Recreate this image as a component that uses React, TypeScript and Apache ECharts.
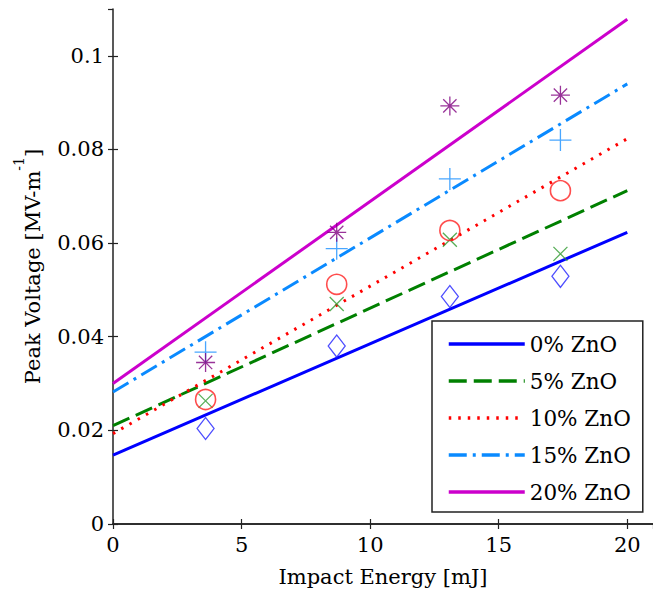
import { useEffect, useRef } from 'react';
import * as echarts from 'echarts';

const seriesNames = ['0% ZnO', '5% ZnO', '10% ZnO', '15% ZnO', '20% ZnO'];
const energies = [3.6, 8.7, 13.1, 17.4];
const measured0 = [0.0204, 0.038, 0.0486, 0.0529];
const measured5 = [0.0263, 0.047, 0.0607, 0.0577];
const measured10 = [0.0266, 0.0512, 0.0627, 0.0712];
const measured15 = [0.0367, 0.0588, 0.0737, 0.082];
const measured20 = [0.0345, 0.0623, 0.0893, 0.0916];
const fitX = [0, 20];
const fit0 = [0.0147, 0.0623];
const fit5 = [0.021, 0.0712];
const fit10 = [0.0193, 0.0823];
const fit15 = [0.0282, 0.094];
const fit20 = [0.03, 0.1078];

const FONT = 'DejaVu Serif';
const lineColors = ['#0000FF', '#008000', '#FF0000', '#0A8AFF', '#CC00CC'];
const markerColors = ['#2020FF', '#2E9A2E', '#FF2020', '#1A90FF', '#800080'];
const lineTypes: any[] = ['solid', [18, 7], [2.5, 7], [18, 6, 3, 6], 'solid'];
const measured = [measured0, measured5, measured10, measured15, measured20];
const fits = [fit0, fit5, fit10, fit15, fit20];
const symbols = [
  'diamond',
  'path://M0,0L20,20M0,20L20,0',
  'circle',
  'path://M10,0L10,20M0,10L20,10',
  'path://M10,0L10,20M0,10L20,10M3,3L17,17M3,17L17,3',
];
const symbolSizes: any[] = [[17, 22], 14, 20, 22, 19];

export default function App() {
  const ref = useRef<HTMLDivElement>(null);
  useEffect(() => {
    if (!ref.current) return;
    const chart = echarts.init(ref.current, undefined, { renderer: 'svg' });
    const lineSeries = seriesNames.map((name, i) => ({
      name,
      type: 'line',
      xAxisIndex: 0,
      yAxisIndex: 0,
      symbol: 'none',
      showSymbol: false,
      data: fitX.map((x, j) => [x, fits[i][j]]),
      lineStyle: { color: lineColors[i], width: 3, type: lineTypes[i], cap: 'butt' },
      itemStyle: { color: lineColors[i] },
      z: 2,
    }));
    const scatterSeries = seriesNames.map((name, i) => ({
      name: name + ' data',
      type: 'scatter',
      xAxisIndex: 0,
      yAxisIndex: 0,
      symbol: symbols[i],
      symbolSize: symbolSizes[i],
      data: energies.map((x, j) => [x, measured[i][j]]),
      itemStyle: {
        color: 'transparent',
        borderColor: markerColors[i],
        borderWidth: i === 2 ? 1.6 : 1.3,
      },
      z: 3,
    }));
    const axisLine = { show: true, lineStyle: { color: '#222', width: 1.5 } };
    const tick = { show: true, inside: true, length: 5, lineStyle: { color: '#222', width: 1.2 } };
    chart.setOption({
      animation: false,
      backgroundColor: '#fff',
      grid: { left: 113, top: 9, right: -4, bottom: 70, containLabel: false },
      xAxis: [
        {
          type: 'value',
          min: 0,
          max: 21,
          interval: 5,
          position: 'bottom',
          axisLine,
          axisTick: tick,
          splitLine: { show: false },
          axisLabel: {
            fontFamily: FONT,
            fontSize: 21,
            color: '#000',
            margin: 10,
            showMaxLabel: false,
          },
          name: 'Impact Energy [mJ]',
          nameLocation: 'middle',
          nameGap: 42,
          nameTextStyle: { fontFamily: FONT, fontSize: 21, color: '#000' },
        },
        {
          type: 'value',
          min: 0,
          max: 21,
          interval: 5,
          position: 'top',
          axisLine,
          axisTick: tick,
          splitLine: { show: false },
          axisLabel: { show: false },
        },
      ],
      yAxis: [
        {
          type: 'value',
          min: 0,
          max: 0.11,
          interval: 0.02,
          position: 'left',
          axisLine,
          axisTick: tick,
          splitLine: { show: false },
          axisLabel: {
            fontFamily: FONT,
            fontSize: 21,
            color: '#000',
            margin: 9,
            showMaxLabel: false,
            formatter: (v: number) => (v > 0.105 ? '' : String(Math.round(v * 100) / 100)),
          },
          name: '{a|Peak Voltage [MV-m}{s|-1}{a|]}',
          nameLocation: 'middle',
          nameGap: 70,
          nameTextStyle: {
            fontFamily: FONT,
            fontSize: 21,
            color: '#000',
            rich: {
              a: { fontFamily: FONT, fontSize: 21, color: '#000', lineHeight: 31, verticalAlign: 'bottom' },
              s: { fontFamily: FONT, fontSize: 14, color: '#000', lineHeight: 31, verticalAlign: 'top' },
            },
          },
        },
        {
          type: 'value',
          min: 0,
          max: 0.11,
          interval: 0.02,
          position: 'right',
          axisLine: { show: false },
          axisTick: tick,
          splitLine: { show: false },
          axisLabel: { show: false },
        },
      ],
      legend: {
        show: true,
        data: seriesNames,
        orient: 'vertical',
        left: 432,
        top: 321,
        itemWidth: 76,
        itemHeight: 14,
        itemGap: 15,
        padding: [12, 12, 9, 15],
        backgroundColor: '#fff',
        borderColor: '#222',
        borderWidth: 1.5,
        borderRadius: 0,
        selectedMode: false,
        itemStyle: { opacity: 0, borderWidth: 0 },
        lineStyle: { width: 3.5 },
        textStyle: { fontFamily: FONT, fontSize: 21.5, color: '#000' },
      },
      series: [...lineSeries, ...scatterSeries],
    });
    return () => chart.dispose();
  }, []);
  return (
    <div
      ref={ref}
      style={{ position: 'fixed', left: 0, top: 0, width: 653, height: 594, background: '#fff' }}
    />
  );
}
